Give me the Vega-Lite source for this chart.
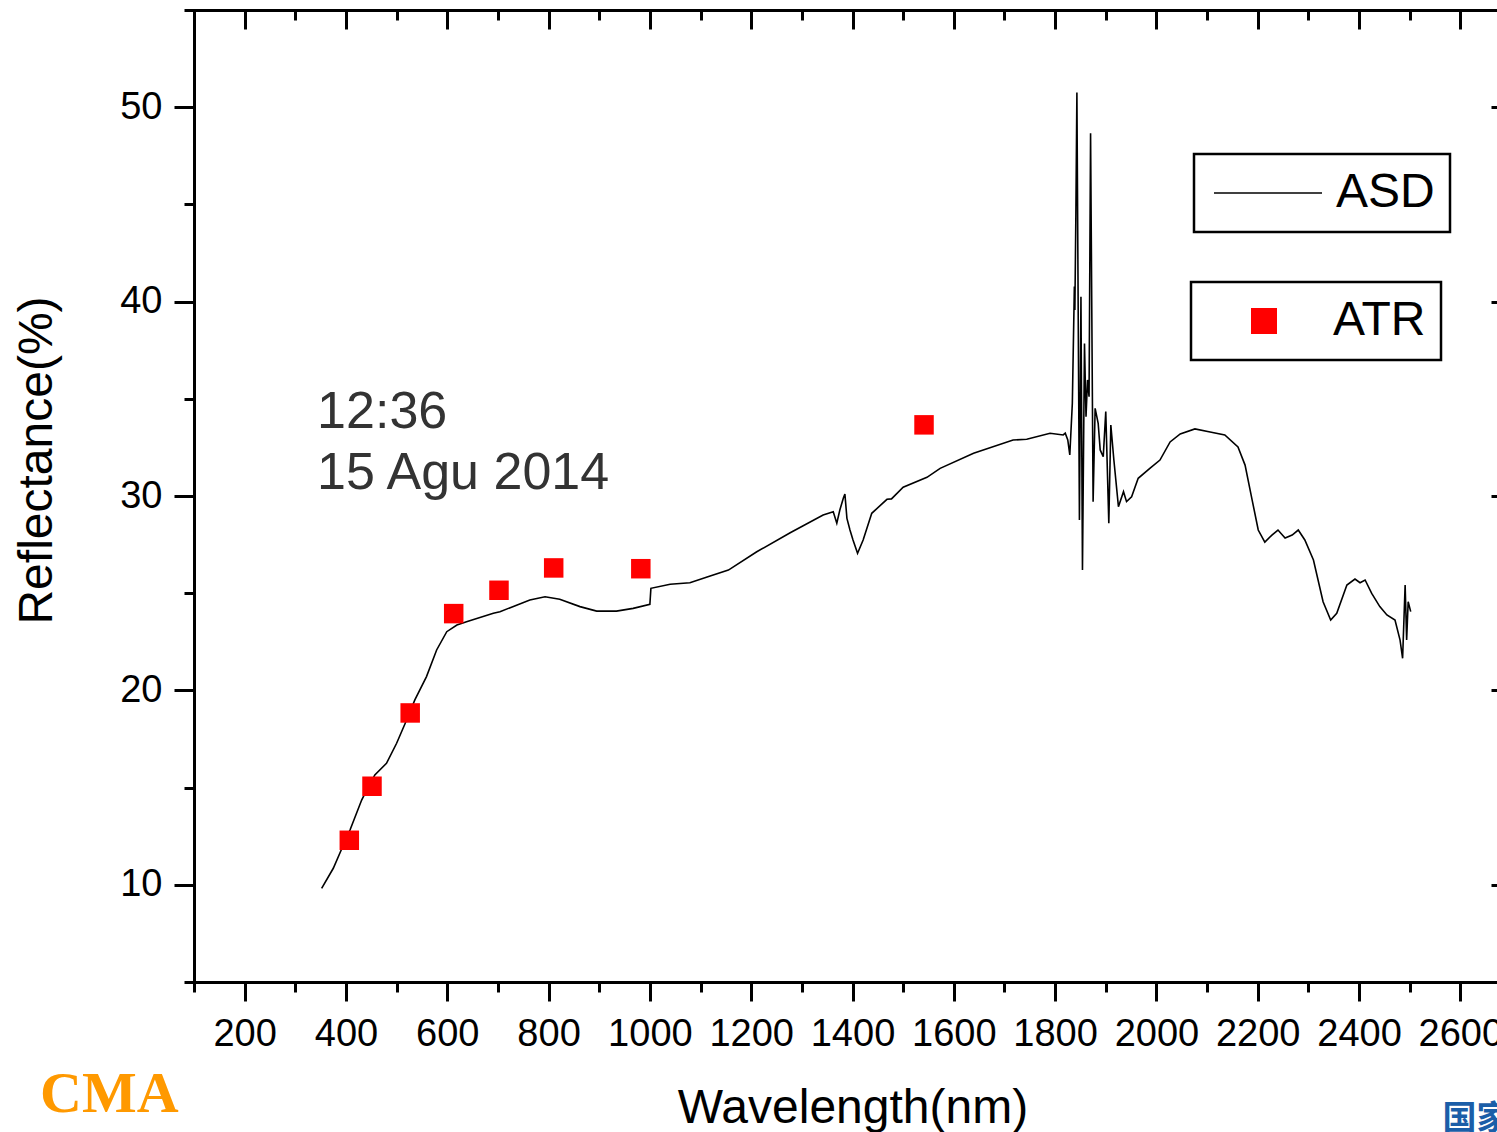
{
  "$schema": "https://vega.github.io/schema/vega-lite/v6.json",
  "width": 1317,
  "height": 972,
  "autosize": {"type": "none"},
  "padding": {"left": 194, "top": 10, "right": 0, "bottom": 150},
  "background": "white",
  "config": {
    "view": {"stroke": null},
    "axis": {
      "domainColor": "black",
      "domainWidth": 3,
      "domainCap": "square",
      "tickColor": "black",
      "tickWidth": 3,
      "grid": false,
      "labelFont": "Liberation Sans",
      "labelColor": "black",
      "labelFontSize": 38,
      "labelOverlap": false,
      "labelFlush": false,
      "labelBound": false,
      "titleFont": "Liberation Sans",
      "titleColor": "black",
      "titleFontSize": 48,
      "titleFontWeight": "normal"
    },
    "legend": {
      "strokeColor": "black",
      "strokeWidth": 2.5,
      "fillColor": "white",
      "labelFont": "Liberation Sans",
      "labelFontSize": 48,
      "labelColor": "black",
      "labelLimit": 400,
      "orient": "none"
    }
  },
  "datasets": {
    "asd": [
      {"wl": 352, "r": 9.82}, {"wl": 375, "r": 10.85}, {"wl": 390, "r": 11.75}, {"wl": 408, "r": 12.82},
      {"wl": 431, "r": 14.36}, {"wl": 441, "r": 14.88}, {"wl": 457, "r": 15.65}, {"wl": 480, "r": 16.25},
      {"wl": 500, "r": 17.28}, {"wl": 517, "r": 18.31}, {"wl": 536, "r": 19.51}, {"wl": 559, "r": 20.71},
      {"wl": 579, "r": 22.08}, {"wl": 599, "r": 23.02}, {"wl": 619, "r": 23.36}, {"wl": 638, "r": 23.53},
      {"wl": 691, "r": 23.97}, {"wl": 704, "r": 24.05}, {"wl": 763, "r": 24.65}, {"wl": 793, "r": 24.82},
      {"wl": 822, "r": 24.69}, {"wl": 862, "r": 24.31}, {"wl": 895, "r": 24.08}, {"wl": 934, "r": 24.08},
      {"wl": 967, "r": 24.22}, {"wl": 1000, "r": 24.43}, {"wl": 1002, "r": 25.25}, {"wl": 1040, "r": 25.46},
      {"wl": 1079, "r": 25.54}, {"wl": 1119, "r": 25.89}, {"wl": 1155, "r": 26.19}, {"wl": 1211, "r": 27.13},
      {"wl": 1277, "r": 28.11}, {"wl": 1342, "r": 29.02}, {"wl": 1362, "r": 29.19}, {"wl": 1369, "r": 28.6},
      {"wl": 1375, "r": 29.28}, {"wl": 1382, "r": 29.9}, {"wl": 1385, "r": 30.1}, {"wl": 1389, "r": 28.85},
      {"wl": 1395, "r": 28.25}, {"wl": 1401, "r": 27.74}, {"wl": 1410, "r": 27.05}, {"wl": 1421, "r": 27.74},
      {"wl": 1438, "r": 29.11}, {"wl": 1468, "r": 29.83}, {"wl": 1477, "r": 29.85}, {"wl": 1500, "r": 30.45},
      {"wl": 1547, "r": 30.96}, {"wl": 1573, "r": 31.42}, {"wl": 1639, "r": 32.2}, {"wl": 1717, "r": 32.88},
      {"wl": 1744, "r": 32.92}, {"wl": 1790, "r": 33.23}, {"wl": 1816, "r": 33.14}, {"wl": 1820, "r": 33.23},
      {"wl": 1825, "r": 32.88}, {"wl": 1829, "r": 32.11}, {"wl": 1834, "r": 34.77}, {"wl": 1838, "r": 40.77},
      {"wl": 1839, "r": 39.57}, {"wl": 1841, "r": 44.54}, {"wl": 1843, "r": 50.75}, {"wl": 1848, "r": 28.77},
      {"wl": 1851, "r": 40.25}, {"wl": 1854, "r": 26.19}, {"wl": 1858, "r": 37.85}, {"wl": 1861, "r": 34.08},
      {"wl": 1864, "r": 35.97}, {"wl": 1867, "r": 35.11}, {"wl": 1870, "r": 48.66}, {"wl": 1875, "r": 29.71},
      {"wl": 1879, "r": 34.51}, {"wl": 1885, "r": 33.74}, {"wl": 1889, "r": 32.37}, {"wl": 1895, "r": 32.02},
      {"wl": 1900, "r": 34.34}, {"wl": 1906, "r": 28.6}, {"wl": 1910, "r": 33.65}, {"wl": 1916, "r": 31.85},
      {"wl": 1925, "r": 29.45}, {"wl": 1935, "r": 30.22}, {"wl": 1941, "r": 29.71}, {"wl": 1951, "r": 29.96},
      {"wl": 1964, "r": 30.91}, {"wl": 1987, "r": 31.42}, {"wl": 2007, "r": 31.85}, {"wl": 2027, "r": 32.78},
      {"wl": 2047, "r": 33.19}, {"wl": 2076, "r": 33.45}, {"wl": 2106, "r": 33.29}, {"wl": 2135, "r": 33.14},
      {"wl": 2161, "r": 32.52}, {"wl": 2175, "r": 31.59}, {"wl": 2189, "r": 29.79}, {"wl": 2201, "r": 28.25},
      {"wl": 2214, "r": 27.63}, {"wl": 2228, "r": 27.99}, {"wl": 2240, "r": 28.25}, {"wl": 2254, "r": 27.84},
      {"wl": 2268, "r": 27.99}, {"wl": 2280, "r": 28.25}, {"wl": 2293, "r": 27.74}, {"wl": 2310, "r": 26.71},
      {"wl": 2329, "r": 24.56}, {"wl": 2344, "r": 23.62}, {"wl": 2356, "r": 23.97}, {"wl": 2376, "r": 25.42},
      {"wl": 2392, "r": 25.73}, {"wl": 2402, "r": 25.54}, {"wl": 2412, "r": 25.68}, {"wl": 2425, "r": 24.99},
      {"wl": 2441, "r": 24.31}, {"wl": 2455, "r": 23.88}, {"wl": 2471, "r": 23.62}, {"wl": 2481, "r": 22.59},
      {"wl": 2486, "r": 21.65}, {"wl": 2491, "r": 25.42}, {"wl": 2494, "r": 22.59}, {"wl": 2497, "r": 24.56},
      {"wl": 2502, "r": 24.05}
    ],
    "atr": [
      {"wl": 406.6, "r": 12.29}, {"wl": 451.4, "r": 15.07}, {"wl": 526.8, "r": 18.84}, {"wl": 612.7, "r": 23.95},
      {"wl": 702.1, "r": 25.15}, {"wl": 810.1, "r": 26.3}, {"wl": 982.1, "r": 26.26}, {"wl": 1541.2, "r": 33.66}
    ],
    "notes": [
      {"wl": 343, "r": 33.5, "t": "12:36"},
      {"wl": 343, "r": 30.36, "t": "15 Agu 2014"}
    ],
    "logos": [
      {"wl": -204, "r": -1.69, "t": "CMA"}
    ],
    "logos2": [
      {"wl": 2565, "r": -2.6, "t": "国家"}
    ]
  },
  "resolve": {
    "scale": {"x": "independent", "y": "independent"},
    "axis": {"x": "independent", "y": "independent"}
  },
  "layer": [
    {
      "data": {"name": "asd"},
      "mark": {"type": "line", "strokeWidth": 1.6, "interpolate": "linear"},
      "encoding": {
        "x": {
          "field": "wl", "type": "quantitative",
          "scale": {"domain": [100, 2700], "nice": false, "zero": false},
          "axis": {
            "orient": "bottom",
            "values": [100, 200, 300, 400, 500, 600, 700, 800, 900, 1000, 1100, 1200, 1300, 1400, 1500, 1600, 1700, 1800, 1900, 2000, 2100, 2200, 2300, 2400, 2500, 2600, 2700],
            "format": "d",
            "labelExpr": "datum.value % 200 === 0 ? datum.label : ''",
            "tickSize": {"condition": {"test": "datum.value % 200 === 0", "value": 19}, "value": 10},
            "labelPadding": 14,
            "title": "Wavelength(nm)",
            "titlePadding": 31
          }
        },
        "y": {
          "field": "r", "type": "quantitative",
          "scale": {"domain": [5, 55], "nice": false, "zero": false},
          "axis": {
            "orient": "left",
            "values": [5, 10, 15, 20, 25, 30, 35, 40, 45, 50, 55],
            "labelExpr": "datum.value % 10 === 0 ? datum.label : ''",
            "tickSize": {"condition": {"test": "datum.value % 10 === 0", "value": 20}, "value": 10},
            "labelPadding": 12,
            "title": "Reflectance(%)",
            "titlePadding": 58,
            "titleY": 450
          }
        },
        "stroke": {
          "datum": "ASD",
          "scale": {"range": ["black"]},
          "legend": {
            "title": null,
            "symbolType": "M-4,0H4",
            "symbolSize": 729,
            "symbolStrokeWidth": 1.5,
            "symbolStrokeColor": "black",
            "padding": 15,
            "symbolOffset": 35,
            "labelOffset": 44,
            "legendX": 1000,
            "legendY": 144
          }
        }
      }
    },
    {
      "data": {"name": "atr"},
      "mark": {"type": "square", "size": 380, "opacity": 1},
      "encoding": {
        "x": {
          "field": "wl", "type": "quantitative",
          "scale": {"domain": [100, 2700], "nice": false, "zero": false},
          "axis": {
            "orient": "top",
            "values": [100, 200, 300, 400, 500, 600, 700, 800, 900, 1000, 1100, 1200, 1300, 1400, 1500, 1600, 1700, 1800, 1900, 2000, 2100, 2200, 2300, 2400, 2500, 2600, 2700],
            "labels": false,
            "tickSize": {"condition": {"test": "datum.value % 200 === 0", "value": -19}, "value": -10},
            "title": null
          }
        },
        "y": {
          "field": "r", "type": "quantitative",
          "scale": {"domain": [5, 55], "nice": false, "zero": false},
          "axis": {
            "orient": "right",
            "values": [5, 10, 15, 20, 25, 30, 35, 40, 45, 50, 55],
            "labels": false,
            "tickSize": {"condition": {"test": "datum.value % 10 === 0", "value": -20}, "value": -10},
            "title": null
          }
        },
        "fill": {
          "datum": "ATR",
          "scale": {"range": ["red"]},
          "legend": {
            "title": null,
            "symbolType": "square",
            "symbolSize": 676,
            "symbolStrokeWidth": 0,
            "padding": 15,
            "symbolOffset": 34,
            "labelOffset": 45,
            "legendX": 997,
            "legendY": 272
          }
        }
      }
    },
    {
      "data": {"name": "notes"},
      "mark": {"type": "text", "align": "left", "baseline": "alphabetic", "font": "Liberation Sans", "fontSize": 52, "color": "#333333"},
      "encoding": {
        "x": {"field": "wl", "type": "quantitative", "scale": {"domain": [100, 2700], "nice": false, "zero": false}, "axis": null},
        "y": {"field": "r", "type": "quantitative", "scale": {"domain": [5, 55], "nice": false, "zero": false}, "axis": null},
        "text": {"field": "t"}
      }
    },
    {
      "data": {"name": "logos"},
      "mark": {"type": "text", "align": "left", "baseline": "alphabetic", "font": "Liberation Serif", "fontWeight": "bold", "fontSize": 58, "color": "#FF9900"},
      "encoding": {
        "x": {"field": "wl", "type": "quantitative", "scale": {"domain": [100, 2700], "nice": false, "zero": false}, "axis": null},
        "y": {"field": "r", "type": "quantitative", "scale": {"domain": [5, 55], "nice": false, "zero": false}, "axis": null},
        "text": {"field": "t"}
      }
    },
    {
      "data": {"name": "logos2"},
      "mark": {"type": "text", "align": "left", "baseline": "alphabetic", "font": "Noto Sans CJK SC", "fontWeight": "bold", "fontSize": 34, "color": "#1B5EA8"},
      "encoding": {
        "x": {"field": "wl", "type": "quantitative", "scale": {"domain": [100, 2700], "nice": false, "zero": false}, "axis": null},
        "y": {"field": "r", "type": "quantitative", "scale": {"domain": [5, 55], "nice": false, "zero": false}, "axis": null},
        "text": {"field": "t"}
      }
    }
  ]
}
